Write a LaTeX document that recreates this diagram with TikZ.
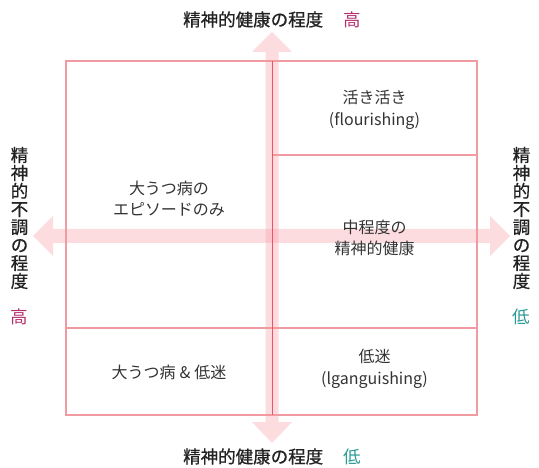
\documentclass[tikz,border=0pt]{standalone}
\usepackage{fontspec}
\setmainfont{Noto Sans CJK JP}
\newfontfamily\jplabel[FakeBold=0.7]{Noto Sans CJK JP}
\definecolor{gridline}{HTML}{F29AA2}
\definecolor{axisline}{HTML}{EC5560}
\definecolor{arrowpink}{HTML}{F99BA6}
\definecolor{highc}{HTML}{B32F6E}
\definecolor{lowc}{HTML}{2A9A93}
\definecolor{bodytext}{HTML}{333333}
\definecolor{labeltext}{HTML}{222222}
\tikzset{
  celltext/.style={text=bodytext, font=\fontsize{16}{21.5}\selectfont, align=center, inner sep=0pt},
  axislabel/.style={text=labeltext, font=\fontsize{17.5}{18}\selectfont\jplabel, inner sep=0pt, align=center},
  levellabel/.style={font=\fontsize{17.5}{18}\selectfont, inner sep=0pt},
  bigarrow/.style={fill=arrowpink, fill opacity=0.35, draw=none},
  gridstroke/.style={draw=gridline, line width=1.1pt},
}
\begin{document}
\begin{tikzpicture}[x=1pt,y=-1pt]
\useasboundingbox (0,0) rectangle (539,468);
% big pink arrows
\fill[bigarrow] (265.5,52) -- (252,52) -- (272,32) -- (292,52) -- (278.5,52) -- (278.5,422) -- (292,422) -- (272,443) -- (252,422) -- (265.5,422) -- cycle;
\fill[bigarrow] (53,229) -- (53,216) -- (33,236) -- (53,256) -- (53,243) -- (490,243) -- (490,256) -- (510,236) -- (490,216) -- (490,229) -- cycle;
% grid
\coordinate (tl) at (66,61);
\coordinate (br) at (477,415);
\draw[gridstroke] (tl) rectangle (br);
\coordinate (ml) at (66,328);
\coordinate (mr) at (477,328);
\coordinate (ul) at (272,155);
\coordinate (ur) at (477,155);
\draw[gridstroke] (ml) -- (mr);
\draw[gridstroke] (ul) -- (ur);
\coordinate (vt) at (272,61);
\coordinate (vb) at (272,415);
\draw[draw=axisline, line width=1pt] (vt) -- (vb);
% cell texts
\node[celltext] (flour) at (374.5,110) {活き活き\\(flourishing)};
\node[celltext] (mod) at (374.5,238) {中程度の\\精神的健康};
\node[celltext] (mdd) at (169,199) {大うつ病の\\エピソードのみ};
\node[celltext] (mddl) at (169,372) {大うつ病\hspace{4pt}\&\hspace{4pt}低迷};
\node[celltext] (lang) at (374.5,369) {低迷\\(lganguishing)};
% axis labels
\node[axislabel, anchor=west] (top) at (183,19.5) {精神的健康の程度};
\node[levellabel, text=highc, anchor=west] (toph) at (343,19.5) {高};
\node[axislabel, anchor=west] (bot) at (183,456.5) {精神的健康の程度};
\node[levellabel, text=lowc, anchor=west] (botl) at (343,456.5) {低};
\node[axislabel] (left) at (19.5,218) {精\\神\\的\\不\\調\\の\\程\\度};
\node[levellabel, text=highc] (lefth) at (19.5,317) {高};
\node[axislabel] (right) at (521.5,218) {精\\神\\的\\不\\調\\の\\程\\度};
\node[levellabel, text=lowc] (rightl) at (521.5,317) {低};
\end{tikzpicture}
\end{document}
